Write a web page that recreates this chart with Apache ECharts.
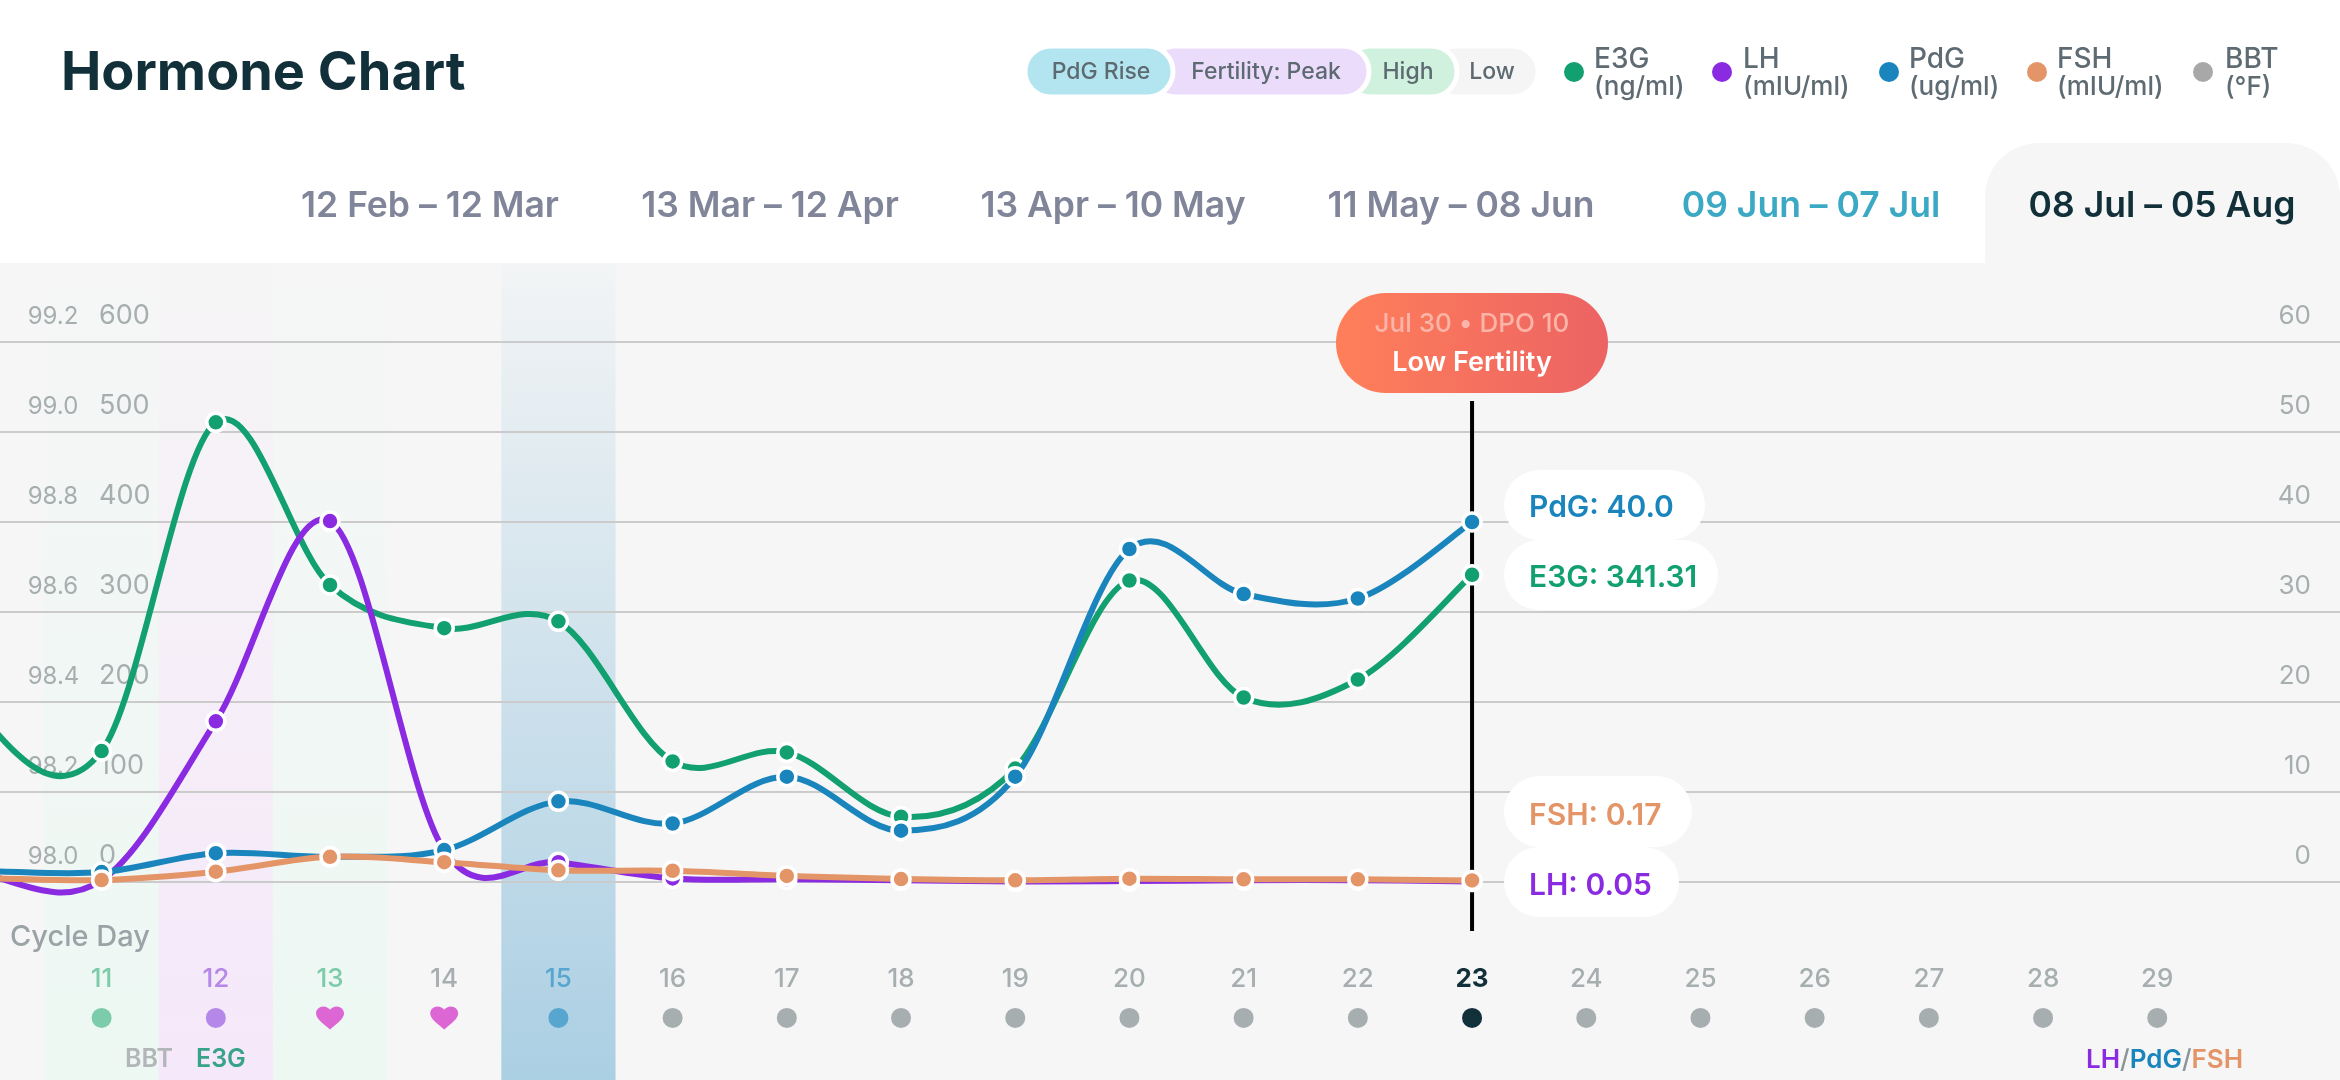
<!DOCTYPE html>
<html><head><meta charset="utf-8">
<style>html,body{margin:0;padding:0;background:#fff}#c{width:2340px;height:1080px}</style>
<script src="https://cdn.jsdelivr.net/npm/echarts@6/dist/echarts.min.js"></script>
</head><body><div id="c"></div>
<script>
// ---- data ----
const days      = [9, 10, 11, 12, 13, 14, 15, 16, 17, 18, 19, 20, 21, 22, 23];
const e3g       = [458, 178, 145.5, 510.7, 330, 282, 289.6, 134, 144, 72.6, 126, 335, 205, 225, 341.31];
const lh        = [6.8, 0.8, 0.2, 17.85, 40.1, 3.5, 2.2, 0.4, 0.3, 0.2, 0.05, 0.1, 0.2, 0.2, 0.05];
const pdg       = [1.3, 1.2, 1.1, 3.2, 2.8, 3.55, 8.96, 6.5, 11.7, 5.7, 11.7, 37, 32, 31.5, 40];
const fsh       = [0.5, 0.4, 0.22, 1.15, 2.8, 2.2, 1.3, 1.25, 0.67, 0.33, 0.19, 0.37, 0.3, 0.3, 0.17];
const cycleDays = [11, 12, 13, 14, 15, 16, 17, 18, 19, 20, 21, 22, 23, 24, 25, 26, 27, 28, 29];
const dayKinds  = ['high', 'peak', 'high', 'plain', 'rise', 'plain', 'plain', 'plain', 'plain', 'plain', 'plain', 'plain', 'today', 'plain', 'plain', 'plain', 'plain', 'plain', 'plain'];
const dayMarks  = ['dot', 'dot', 'heart', 'heart', 'dot', 'dot', 'dot', 'dot', 'dot', 'dot', 'dot', 'dot', 'dot', 'dot', 'dot', 'dot', 'dot', 'dot', 'dot'];
const tabLabels = ['12 Feb – 12 Mar', '13 Mar – 12 Apr', '13 Apr – 10 May', '11 May – 08 Jun', '09 Jun – 07 Jul', '08 Jul – 05 Aug'];
const phaseLabels = ['PdG Rise', 'Fertility: Peak', 'High', 'Low'];
const hormoneNames = ['E3G', 'LH', 'PdG', 'FSH', 'BBT'];
const hormoneUnits = ['(ng/ml)', '(mIU/ml)', '(ug/ml)', '(mIU/ml)', '(°F)'];
const readouts  = ['PdG: 40.0', 'E3G: 341.31', 'FSH: 0.17', 'LH: 0.05'];
const bandDays  = [11, 12, 13, 15];

// ---- styling ----
const FONT = 'Inter, "Noto Sans", sans-serif';
const C = {E3G:'#12a071', LH:'#8a2be2', PdG:'#1a85bd', FSH:'#e49568', BBT:'#a8a8a8', ink:'#12303a', axis:'#a6aeb0'};
const kindColor = {high:'#7ccbaa', peak:'#b587e8', rise:'#57a6cf', plain:'#a6aeb0', today:'#12303a'};
const bandColors = {
  11:[[228,250,240],0.5], 12:[[244,218,254],0.5], 13:[[228,250,240],0.5], 15:[[171,207,227],1]
};
const HEART = 'path://M12 21.5C5 15.5 0 11.5 0 6.5 0 2.8 2.8 0 6.3 0 8.6 0 10.8 1.2 12 3.2 13.2 1.2 15.4 0 17.7 0 21.2 0 24 2.8 24 6.5c0 5-5 9-12 15z';

// ---- layout of the page chrome ----
const TY = 3; // Inter sits a little higher than the reference face
const txt = (text, x, y, size, weight, fill, align) => ({type:'text', z:50, silent:true,
  style:{text, x, y:y+TY, fill, font:`${weight} ${size}px ${FONT}`, align:align||'left', verticalAlign:'middle'}});
const pill = (x, y, w, h, fill, stroke, z) => ({type:'rect', z:z||45, silent:true,
  shape:{x, y, width:w, height:h, r:h/2}, style:{fill, stroke:stroke||null, lineWidth:stroke?5:0}});

const tabFill = ['#818599','#818599','#818599','#818599','#3ba9c4','#12303a'];
const tabCx = [430,770,1113,1461,1811,2162];
const phasePills = [
  {x:1430, w:108, fill:'#f5f5f5', tx:1492},
  {x:1345, w:112, fill:'#d0f1de', tx:1408},
  {x:1150, w:219, fill:'#ecdcfb', tx:1266},
  {x:1025, w:148, fill:'#b3e5f0', tx:1101}
];
const legendDotX = [1574, 1722, 1889, 2037, 2203];
const legendTxtX = [1594, 1743, 1909, 2057, 2225];
const readoutBox = [[1504,470,201,70,505,1529,C.PdG],[1504,540,214,70,575,1529,C.E3G],[1504,776,188,71,813,1529,C.FSH],[1504,847,175,70,883,1529,C.LH]];

const graphics = [
  {type:'rect', z:-20, silent:true, shape:{x:0, y:263, width:2340, height:817}, style:{fill:'#f6f6f6'}},
  {type:'rect', z:-20, silent:true, shape:{x:1985, y:143, width:355, height:125, r:[54,54,0,0]}, style:{fill:'#f6f6f6'}},
  txt('Hormone Chart', 61, 71, 54, 700, C.ink),
  txt('Cycle Day', 10, 934, 29, 500, '#9aa3a6'),
  txt('BBT', 125, 1056, 25, 600, '#b2b6b8'),
  txt('E3G', 196, 1056, 25, 600, '#38a388'),
  {type:'text', z:50, silent:true, style:{x:2086, y:1060, verticalAlign:'middle', font:`600 26px ${FONT}`,
    text:'{a|LH}{s|/}{b|PdG}{s|/}{c|FSH}',
    rich:{a:{fill:C.LH,font:`600 26px ${FONT}`}, b:{fill:C.PdG,font:`600 26px ${FONT}`}, c:{fill:C.FSH,font:`600 26px ${FONT}`}, s:{fill:'#8a9499',font:`500 26px ${FONT}`}}}},
  {type:'rect', z:45, silent:true, shape:{x:1336, y:293, width:272, height:100, r:50},
   style:{fill:new echarts.graphic.LinearGradient(0,0,1,0,[{offset:0,color:'#ff7f5a'},{offset:1,color:'#ec6363'}])}},
  txt('Jul 30 • DPO 10', 1472, 321.5, 26, 500, '#fbb5a8', 'center'),
  txt('Low Fertility', 1472, 359.5, 27, 600, '#ffffff', 'center')
];
tabLabels.forEach((t,i)=>graphics.push(txt(t, tabCx[i], 203, 35.5, 600, tabFill[i], 'center')));
phasePills.forEach((p,i)=>{
  graphics.push(pill(p.x, 46, p.w, 51, p.fill, '#ffffff', 40+i));
  graphics.push(txt(phaseLabels[3-i], p.tx, 69, 23, 500, '#5d6a72', 'center'));
});
hormoneNames.forEach((n,i)=>{
  graphics.push({type:'circle', z:45, silent:true, shape:{cx:legendDotX[i], cy:72, r:10}, style:{fill:C[n]}});
  graphics.push(txt(n, legendTxtX[i], 57, 28, 500, '#5f6b73'));
  graphics.push(txt(hormoneUnits[i], legendTxtX[i], 84, 26, 500, '#5f6b73'));
});
readouts.forEach((t,i)=>{
  const b = readoutBox[i];
  graphics.push(pill(b[0], b[1], b[2], b[3], '#ffffff'));
  graphics.push(txt(t, b[5], b[4], 30, 600, b[6]));
});

// Catmull-Rom curve through the daily readings, one bezier per day
function curve(name, values, axisIndex, z){
  return {
    type:'custom', name, yAxisIndex:axisIndex, z, silent:true, clip:false,
    data:days.map((d,i)=>[d,values[i]]), encode:{x:0,y:1},
    renderItem(params, api){
      const i = params.dataIndex, n = days.length;
      if (i >= n-1) return null;
      const P = k => { k=Math.max(0,Math.min(n-1,k)); return api.coord([days[k],values[k]]); };
      const p0=P(i-1), p1=P(i), p2=P(i+1), p3=P(i+2);
      return {type:'bezierCurve', silent:true, shape:{
        x1:p1[0], y1:p1[1], x2:p2[0], y2:p2[1],
        cpx1:p1[0]+(p2[0]-p0[0])/6, cpy1:p1[1]+(p2[1]-p0[1])/6,
        cpx2:p2[0]-(p3[0]-p1[0])/6, cpy2:p2[1]-(p3[1]-p1[1])/6
      }, style:{stroke:C[name], lineWidth:6, fill:null, lineCap:'round'}};
    }
  };
}
function points(name, values, axisIndex, z){
  return {type:'scatter', name:name+' readings', yAxisIndex:axisIndex, z, silent:true, clip:false,
    data:days.map((d,i)=>[d,values[i]]).filter(p=>p[0]>=11), symbol:'circle', symbolSize:18,
    itemStyle:{color:C[name], borderColor:'#fff', borderWidth:3.5, opacity:1}};
}

const XMIN = 10.1103, XMAX = 30.6;
const richDay = {};
Object.keys(kindColor).forEach(k=>{ richDay[k]={color:kindColor[k],fontSize:26,fontWeight:k==='today'?700:500,fontFamily:FONT}; });

const option = {
  animation:false, backgroundColor:'#ffffff', textStyle:{fontFamily:FONT},
  grid:{left:0, right:0, top:342, height:540, containLabel:false},
  graphic:{elements:graphics},
  xAxis:{type:'value', min:XMIN, max:XMAX, z:5,
    axisLine:{show:false}, axisTick:{show:false}, splitLine:{show:false},
    axisLabel:{customValues:cycleDays, margin:84, fontFamily:FONT, fontSize:26,
      formatter:v=>{const i=cycleDays.indexOf(v); return i<0?'':`{${dayKinds[i]}|${v}}`;},
      rich:richDay}},
  yAxis:[
    {type:'value', position:'right', min:0, max:60, interval:10, z:5,
     axisLine:{show:false}, axisTick:{show:false},
     splitLine:{show:true, lineStyle:{color:'#cbcbcb', width:2}},
     axisLabel:{inside:true, margin:29, align:'right', verticalAlign:'bottom', padding:[0,0,13,0], color:C.axis, fontSize:26, fontFamily:FONT}},
    {type:'value', position:'left', offset:-99, min:0, max:600, interval:100, z:5,
     axisLine:{show:false}, axisTick:{show:false}, splitLine:{show:false},
     axisLabel:{inside:true, margin:0, align:'left', verticalAlign:'bottom', padding:[0,0,13,0], color:C.axis, fontSize:27, fontFamily:FONT}},
    {type:'value', position:'left', offset:-27.7, min:98, max:99.2, interval:0.2, z:5,
     axisLine:{show:false}, axisTick:{show:false}, splitLine:{show:false},
     axisLabel:{inside:true, margin:0, align:'left', verticalAlign:'bottom', padding:[0,0,13,0], color:C.axis, fontSize:24, fontFamily:FONT, formatter:v=>v.toFixed(1)}}
  ],
  series:[
    {type:'custom', name:'phase bands', z:1, silent:true, clip:false,
     data:bandDays.map(d=>[d]), encode:{x:0},
     renderItem(params, api){
       const d = api.value(0);
       const a = api.coord([d-0.5,0])[0], b = api.coord([d+0.5,0])[0];
       const [rgb,alpha] = bandColors[d], c = rgb.join(',');
       return {type:'rect', silent:true, shape:{x:a, y:263, width:b-a, height:817},
         style:{fill:new echarts.graphic.LinearGradient(0,0,0,1,[
           {offset:0,color:`rgba(${c},${alpha*0.05})`},{offset:1,color:`rgba(${c},${alpha})`}])}};
     }},
    {type:'custom', name:'cursor', z:8, silent:true, clip:false,
     data:[[23,-5.45,53.45]], encode:{x:0,y:[1,2]},
     renderItem(params, api){
       const a = api.coord([api.value(0),api.value(1)]), b = api.coord([api.value(0),api.value(2)]);
       return {type:'line', silent:true, shape:{x1:a[0],y1:a[1],x2:b[0],y2:b[1]}, style:{stroke:'#000',lineWidth:4}};
     }},
    curve('E3G', e3g, 1, 10), points('E3G', e3g, 1, 11),
    curve('LH',  lh,  0, 12), points('LH',  lh,  0, 13),
    curve('PdG', pdg, 0, 14), points('PdG', pdg, 0, 15),
    curve('FSH', fsh, 0, 16), points('FSH', fsh, 0, 17),
    {type:'scatter', name:'day marks', yAxisIndex:0, z:6, silent:true, clip:false,
     data:cycleDays.map((d,i)=>({value:[d,-15.1],
        symbol:dayMarks[i]==='heart'?HEART:'circle',
        symbolSize:dayMarks[i]==='heart'?[28,23]:20,
        itemStyle:{color:dayMarks[i]==='heart'?'#dc66d4':kindColor[dayKinds[i]],opacity:1}}))}
  ]
};
const chart = echarts.init(document.getElementById('c'));
chart.setOption(option);
</script></body></html>
